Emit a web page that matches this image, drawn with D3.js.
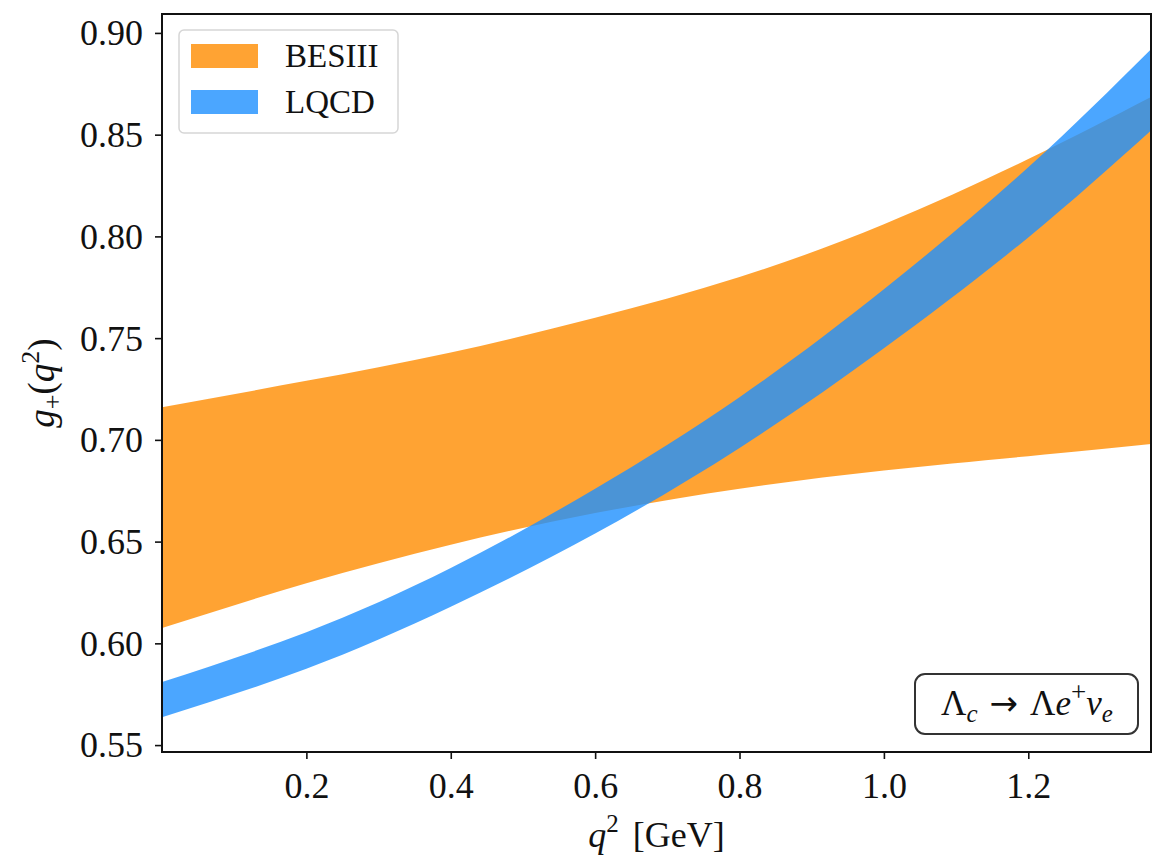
<!DOCTYPE html>
<html><head><meta charset="utf-8">
<script src="https://cdn.jsdelivr.net/npm/d3@7"></script>
<style>body{margin:0;background:#fff}svg text{font-family:"Liberation Serif","DejaVu Serif",serif;fill:#111}</style>
</head><body><svg id="c" width="1154" height="860"></svg>
<script>
const q2 = [0, 0.2, 0.4, 0.6, 0.8, 1.0, 1.2, 1.37];
const besiiiUpper = [0.716, 0.729, 0.743, 0.760, 0.780, 0.806, 0.838, 0.8685];
const besiiiLower = [0.6075, 0.6295, 0.6485, 0.664, 0.676, 0.685, 0.692, 0.698];
const lqcdUpper = [0.581, 0.6055, 0.637, 0.676, 0.721, 0.774, 0.834, 0.892];
const lqcdLower = [0.5637, 0.5875, 0.618, 0.654, 0.696, 0.745, 0.7995, 0.852];
const xTicks = [0.2, 0.4, 0.6, 0.8, 1.0, 1.2];
const yTicks = [0.55, 0.60, 0.65, 0.70, 0.75, 0.80, 0.85, 0.90];
const seriesNames = ["BESIII", "LQCD"];

const L = 162, R = 1151, T = 14, B = 752;
const FONT = '"Liberation Serif","DejaVu Serif",serif';
const svg = d3.select("#c");
const x = d3.scaleLinear().domain([0, 1.37]).range([L, R]);
const y = d3.scaleLinear().domain([0.5466, 0.9093]).range([B, T]);

svg.append("clipPath").attr("id", "pc").append("rect")
  .attr("x", L).attr("y", T).attr("width", R - L).attr("height", B - T);

function band(lo, hi) {
  return d3.area().curve(d3.curveNatural)
    .x((d, i) => x(q2[i])).y0((d, i) => y(lo[i])).y1((d, i) => y(hi[i]))(q2);
}
const g = svg.append("g").attr("clip-path", "url(#pc)");
g.append("path").attr("d", band(besiiiLower, besiiiUpper)).attr("fill", "darkorange").attr("fill-opacity", 0.8);
g.append("path").attr("d", band(lqcdLower, lqcdUpper)).attr("fill", "dodgerblue").attr("fill-opacity", 0.8);

// axes
const xa = svg.append("g").attr("transform", `translate(0,${B})`)
  .call(d3.axisBottom(x).tickValues(xTicks).tickFormat(d3.format(".1f")).tickSize(7).tickSizeOuter(0));
const ya = svg.append("g").attr("transform", `translate(${L},0)`)
  .call(d3.axisLeft(y).tickValues(yTicks).tickFormat(d3.format(".2f")).tickSize(7).tickSizeOuter(0));
[xa, ya].forEach(a => {
  a.select(".domain").remove();
  a.selectAll(".tick line").attr("stroke", "#111").attr("stroke-width", 1.6);
  a.selectAll(".tick text").attr("font-size", 36).attr("fill", "#111").style("font-family", FONT);
});
xa.selectAll(".tick text").attr("y", 46).attr("dy", 0);
ya.selectAll(".tick text").attr("x", -19).attr("dy", "0.33em");

svg.append("rect").attr("x", L).attr("y", T).attr("width", R - L).attr("height", B - T)
  .attr("fill", "none").attr("stroke", "#111").attr("stroke-width", 2);

// x label
const xl = svg.append("text").attr("x", (L + R) / 2).attr("y", 847).attr("text-anchor", "middle").attr("font-size", 36);
xl.append("tspan").attr("font-style", "italic").text("q");
xl.append("tspan").attr("font-size", 25).attr("dy", -15).text("2");
xl.append("tspan").attr("dy", 15).attr("dx", 14).text("[GeV]");

// y label
const yl = svg.append("text").attr("transform", `translate(54,${(T + B) / 2}) rotate(-90)`).attr("text-anchor", "middle").attr("font-size", 37);
yl.append("tspan").attr("font-style", "italic").text("g");
yl.append("tspan").attr("font-size", 26).attr("dy", 7).text("+");
yl.append("tspan").attr("dy", -7).text("(");
yl.append("tspan").attr("font-style", "italic").text("q");
yl.append("tspan").attr("font-size", 26).attr("dy", -15).text("2");
yl.append("tspan").attr("dy", 15).text(")");

// legend
const lg = svg.append("g");
lg.append("rect").attr("x", 179).attr("y", 30).attr("width", 219).attr("height", 103).attr("rx", 5)
  .attr("fill", "white").attr("fill-opacity", 0.8).attr("stroke", "#d6d6d6").attr("stroke-width", 1.5);
const cols = ["darkorange", "dodgerblue"];
seriesNames.forEach((n, i) => {
  lg.append("rect").attr("x", 191).attr("y", 44 + i * 46).attr("width", 67).attr("height", 24)
    .attr("fill", cols[i]).attr("fill-opacity", 0.8);
  lg.append("text").attr("x", 285).attr("y", 67 + i * 46).attr("font-size", 33).text(n);
});

// annotation
svg.append("rect").attr("x", 915).attr("y", 674).attr("width", 223).attr("height", 60).attr("rx", 10)
  .attr("fill", "white").attr("stroke", "#333").attr("stroke-width", 2);
const an = svg.append("text").attr("x", 1027).attr("y", 715).attr("text-anchor", "middle").attr("font-size", 35);
an.append("tspan").text("Λ");
an.append("tspan").attr("font-style", "italic").attr("font-size", 25).attr("dy", 7).text("c");
an.append("tspan").attr("dy", -7).attr("dx", 12).style("font-family", '"DejaVu Sans",sans-serif').attr("font-size", 34).text("→");
an.append("tspan").attr("dx", 12).text("Λ");
an.append("tspan").attr("font-style", "italic").text("e");
an.append("tspan").attr("font-size", 27).attr("dy", -14).text("+");
an.append("tspan").attr("font-style", "italic").attr("dy", 14).text("ν");
an.append("tspan").attr("font-style", "italic").attr("font-size", 25).attr("dy", 7).text("e");
</script></body></html>
